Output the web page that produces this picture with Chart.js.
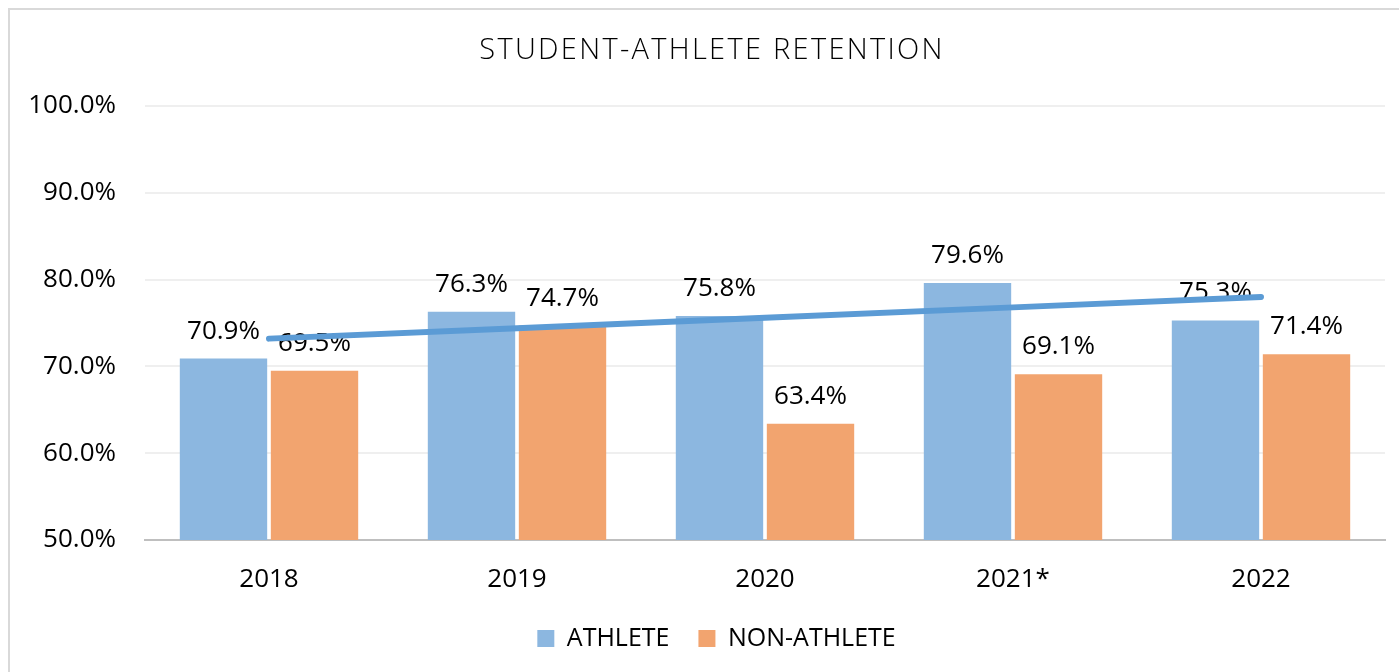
<!DOCTYPE html>
<html>
<head>
<meta charset="utf-8">
<script src="https://cdn.jsdelivr.net/npm/chart.js@4/dist/chart.umd.min.js"></script>
<style>
  html, body { margin: 0; padding: 0; background: #fff; overflow: hidden; }
  #wrap { position: relative; width: 1399px; height: 672px; overflow: hidden; }
  #frame { position: absolute; left: 8px; top: 8px; width: 1500px; height: 800px; border: 2px solid #d9d9d9; box-sizing: border-box; pointer-events: none; }
  canvas { position: absolute; left: 0; top: 0; }
</style>
</head>
<body>
<div id="wrap">
  <div id="frame"></div>
  <canvas id="c" width="1399" height="672"></canvas>
</div>
<script>
const titleText = 'STUDENT-ATHLETE RETENTION';
const categories = ['2018', '2019', '2020', '2021*', '2022'];
const athlete = [70.9, 76.3, 75.8, 79.6, 75.3];
const nonAthlete = [69.5, 74.7, 63.4, 69.1, 71.4];
const athleteTrend = [73.2, 74.4, 75.6, 76.8, 78.0];
const seriesNames = ['ATHLETE', 'NON-ATHLETE', 'Linear (ATHLETE)'];
const yMin = 50, yMax = 100, yStep = 10;

const FONT = "'Open Sans', 'Noto Sans', sans-serif";
Chart.defaults.font.family = FONT;
Chart.defaults.font.size = 26;
Chart.defaults.color = '#000';

const barLabels = {
  id: 'barLabels',
  afterDatasetDraw(chart, args) {
    const ds = chart.data.datasets[args.index];
    if (ds.type === 'line') return;
    const ctx = chart.ctx;
    ctx.save();
    ctx.font = '26px ' + FONT;
    ctx.fillStyle = '#000';
    ctx.textAlign = 'center';
    ctx.textBaseline = 'alphabetic';
    args.meta.data.forEach((bar, i) => {
      ctx.fillText(ds.data[i].toFixed(1) + '%', bar.x, bar.y - 20);
    });
    ctx.restore();
  }
};

// Spaced title, centred on the outer chart frame
const spacedTitle = {
  id: 'spacedTitle',
  afterDraw(chart) {
    const ctx = chart.ctx;
    ctx.save();
    ctx.font = '300 29px ' + FONT;
    ctx.letterSpacing = '2.3px';
    ctx.fillStyle = '#000';
    ctx.textAlign = 'center';
    ctx.textBaseline = 'middle';
    ctx.fillText(titleText, 712, 51);
    ctx.restore();
  }
};

// Shift legend block to be centred on the outer frame like the reference
const legendShift = {
  id: 'legendShift',
  afterLayout(chart) {
    const lg = chart.legend;
    if (lg) { lg.left += 24; lg.right += 24; }
  }
};

new Chart(document.getElementById('c'), {
  type: 'bar',
  data: {
    labels: categories,
    datasets: [
      {
        type: 'line',
        label: seriesNames[2],
        data: athleteTrend,
        borderColor: '#5B9BD5',
        borderWidth: 6,
        borderCapStyle: 'round',
        pointRadius: 0,
        tension: 0,
        fill: false,
        order: 0
      },
      {
        label: seriesNames[0],
        data: athlete,
        backgroundColor: '#8CB7E0',
        barPercentage: 0.96,
        categoryPercentage: 0.734,
        order: 1
      },
      {
        label: seriesNames[1],
        data: nonAthlete,
        backgroundColor: '#F2A46F',
        barPercentage: 0.96,
        categoryPercentage: 0.734,
        order: 1
      }
    ]
  },
  options: {
    responsive: false,
    animation: false,
    layout: { padding: { left: 0, right: 14, top: 106, bottom: 11 } },
    plugins: {
      title: { display: false },
      legend: {
        position: 'bottom',
        labels: {
          boxWidth: 17,
          boxHeight: 17,
          padding: 29,
          font: { size: 25 },
          color: '#000',
          filter: (item) => item.datasetIndex !== 0
        }
      },
      tooltip: { enabled: false }
    },
    scales: {
      x: {
        grid: { display: false },
        border: { display: true, color: '#bfbfbf', width: 2 },
        ticks: { padding: 16, font: { size: 26 }, color: '#000' },
        afterFit: (s) => { s.height = 57; }
      },
      y: {
        min: yMin,
        max: yMax,
        ticks: {
          stepSize: yStep,
          padding: 29,
          font: { size: 26 },
          color: '#000',
          callback: (v) => v.toFixed(1) + '%'
        },
        grid: { color: '#efefef', lineWidth: 2, drawTicks: false },
        border: { display: false },
        afterFit: (s) => { s.width = 145; }
      }
    }
  },
  plugins: [barLabels, spacedTitle, legendShift]
});
</script>
</body>
</html>
